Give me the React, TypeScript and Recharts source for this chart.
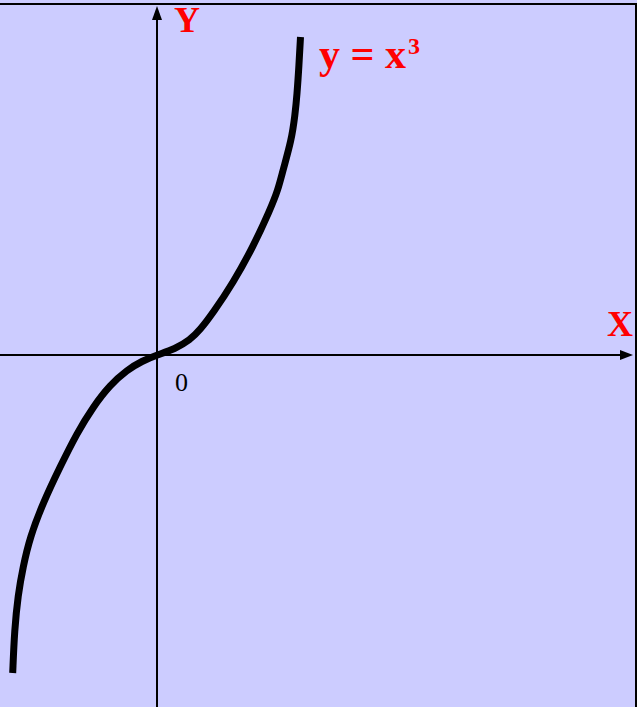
import React from "react";
import { LineChart, Line, XAxis, YAxis, ReferenceLine, ReferenceDot } from "recharts";

const curveX = [-1.443, -1.425, -1.39, -1.34, -1.27, -1.14, -0.97, -0.80, -0.64, -0.47, -0.30, -0.15, 0, 0.18, 0.33, 0.43, 0.56, 0.76, 0.96, 1.13, 1.21, 1.26, 1.345, 1.38, 1.40, 1.42, 1.435];
const curveY = [-3.18, -2.75, -2.40, -2.12, -1.82, -1.48, -1.12, -0.78, -0.52, -0.30, -0.15, -0.06, 0, 0.06, 0.15, 0.25, 0.42, 0.72, 1.08, 1.45, 1.65, 1.85, 2.15, 2.40, 2.60, 2.90, 3.18];

const xDomain = [-1.57, 4.8];
const yDomain = [-3.52, 3.55];

const data = curveX.map((x, i) => ({ x, y: curveY[i] }));

const RED = "#ff0000";
const FONT = "'Liberation Serif', 'Times New Roman', serif";

const ArrowRight = (p: any) => {
  const { x1, y1, x2, y2 } = p;
  return (
    <g>
      <line x1={x1} y1={y1} x2={x2 - 10} y2={y2} stroke="#000" strokeWidth={2} />
      <polygon points={`${x2},${y2} ${x2 - 13},${y2 - 5} ${x2 - 13},${y2 + 5}`} fill="#000" />
    </g>
  );
};

const ArrowUp = (p: any) => {
  const { x1, y1, x2, y2 } = p;
  const top = Math.min(y1, y2);
  const bottom = Math.max(y1, y2);
  return (
    <g>
      <line x1={x1} y1={bottom} x2={x2} y2={top + 10} stroke="#000" strokeWidth={2} />
      <polygon points={`${x2},${top} ${x2 - 5},${top + 14} ${x2 + 5},${top + 14}`} fill="#000" />
    </g>
  );
};

const PlainLine = (p: any) => {
  const { x1, y1, x2, y2 } = p;
  return <line x1={x1} y1={y1} x2={x2} y2={y2} stroke="#000" strokeWidth={2} />;
};

const makeText = (txt: string, size: number, bold: boolean, color: string) => (p: any) => (
  <text x={p.cx} y={p.cy} fontFamily={FONT} fontSize={size} fontWeight={bold ? "bold" : "normal"} fill={color}>
    {txt}
  </text>
);

const EqLabel = (p: any) => (
  <text x={p.cx} y={p.cy} fontFamily={FONT} fontSize={42} fontWeight="bold" fill={RED}>
    y = x
    <tspan fontSize={24} dx={2} dy={-14}>3</tspan>
  </text>
);

export default function App() {
  return (
    <div style={{ position: "absolute", left: 0, top: 0, width: 637, height: 707, background: "#ccccff" }}>
      <LineChart width={637} height={707} data={data} margin={{ top: 0, right: 0, bottom: 0, left: 0 }}>
        <XAxis type="number" dataKey="x" domain={xDomain} hide allowDataOverflow />
        <YAxis type="number" domain={yDomain} hide allowDataOverflow />
        <ReferenceLine segment={[{ x: xDomain[0], y: 3.51 }, { x: xDomain[1], y: 3.51 }]} shape={PlainLine} />
        <ReferenceLine segment={[{ x: 4.79, y: 3.52 }, { x: 4.79, y: yDomain[0] }]} shape={PlainLine} />
        <ReferenceLine segment={[{ x: xDomain[0], y: 0 }, { x: 4.76, y: 0 }]} shape={ArrowRight} />
        <ReferenceLine segment={[{ x: 0, y: yDomain[0] }, { x: 0, y: 3.49 }]} shape={ArrowUp} />
        <Line
          type="basis"
          dataKey="y"
          stroke="#000"
          strokeWidth={7}
          dot={false}
          activeDot={false}
          isAnimationActive={false}
        />
        <ReferenceDot x={0.17} y={3.23} shape={makeText("Y", 36, true, RED)} />
        <ReferenceDot x={4.5} y={0.19} shape={makeText("X", 36, true, RED)} />
        <ReferenceDot x={0.18} y={-0.36} shape={makeText("0", 26, false, "#000")} />
        <ReferenceDot x={1.62} y={2.87} shape={EqLabel} />
      </LineChart>
    </div>
  );
}
